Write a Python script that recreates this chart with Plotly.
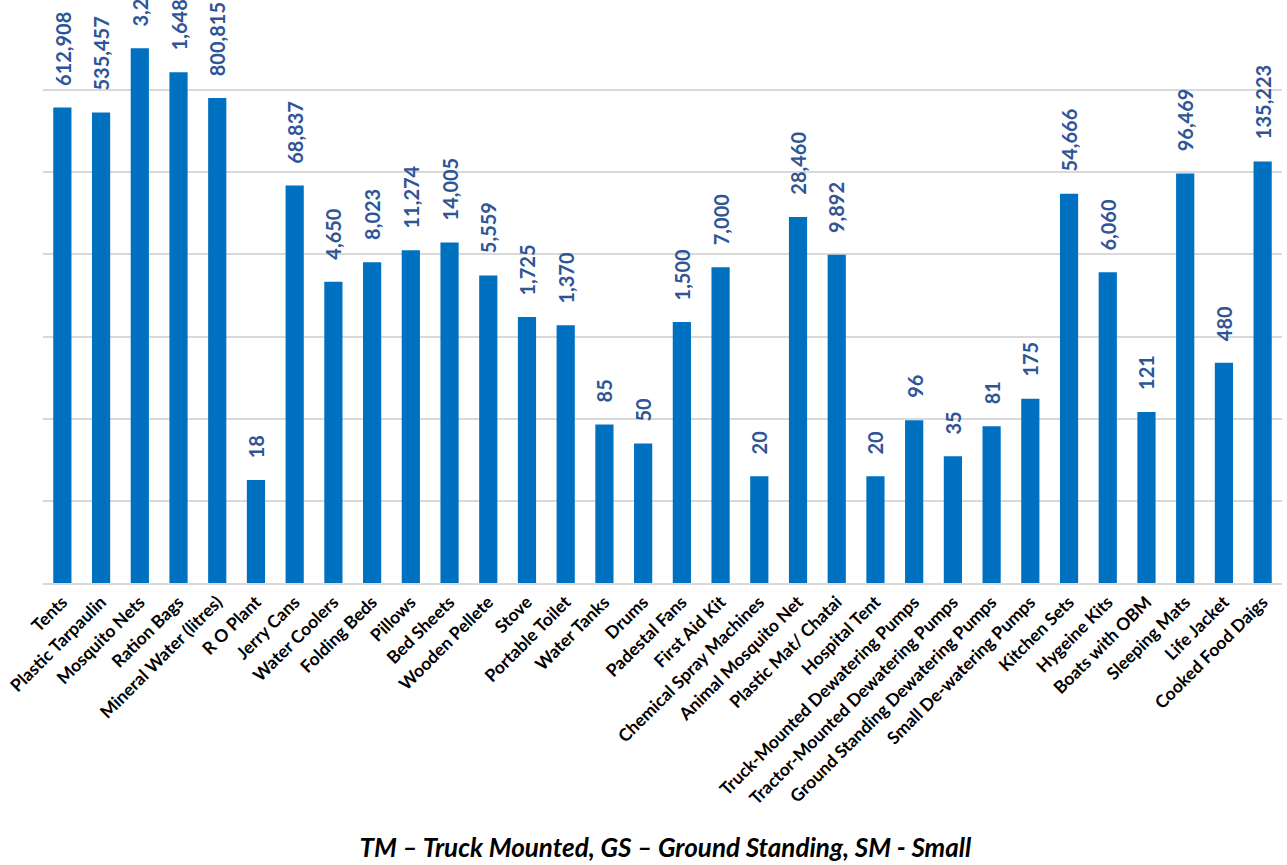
import math
import plotly.graph_objects as go

categories = ["Tents", "Plastic Tarpaulin", "Mosquito Nets", "Ration Bags", "Mineral Water (litres)",
              "R O Plant", "Jerry Cans", "Water Coolers", "Folding Beds", "Pillows", "Bed Sheets",
              "Wooden Pellete", "Stove", "Portable Toilet", "Water Tanks", "Drums", "Padestal Fans",
              "First Aid Kit", "Chemical Spray Machines", "Animal Mosquito Net", "Plastic Mat/ Chatai",
              "Hospital Tent", "Truck-Mounted Dewatering Pumps", "Tractor-Mounted Dewatering Pumps",
              "Ground Standing Dewatering Pumps", "Small De-watering Pumps", "Kitchen Sets",
              "Hygeine Kits", "Boats with OBM", "Sleeping Mats", "Life Jacket", "Cooked Food Daigs"]
values = [612908, 535457, 3232000, 1648520, 800815, 18, 68837, 4650, 8023, 11274, 14005,
          5559, 1725, 1370, 85, 50, 1500, 7000, 20, 28460, 9892, 20, 96, 35, 81, 175,
          54666, 6060, 121, 96469, 480, 135223]

note = "TM – Truck Mounted, GS – Ground Standing, SM - Small"

bar_color = "#0070C0"
label_color = "#2F5597"

fig = go.Figure()
fig.add_trace(go.Bar(x=categories, y=values, marker_color=bar_color,
                     marker_line_width=0, hoverinfo="x+y"))

for c, v in zip(categories, values):
    fig.add_annotation(x=c, y=math.log10(v), text=f"<b>{v:,}</b>", textangle=-90,
                       showarrow=False, yanchor="bottom", xanchor="center", yshift=20,
                       font=dict(family="Lato", size=20, color=label_color))

fig.update_layout(
    width=1287, height=865,
    margin=dict(l=43, r=5, t=8, b=282),
    paper_bgcolor="white", plot_bgcolor="white",
    bargap=0.53,
    showlegend=False,
    title=dict(text=f"<b><i>{note}</i></b>", x=0.517, xanchor="center",
               y=1 - 848 / 865, yanchor="middle",
               font=dict(family="Lato", size=26, color="#000000")),
    font=dict(family="Lato"),
)
fig.update_xaxes(tickangle=-45,
                 tickfont=dict(family="Lato", size=17.5, color="#000000", weight="bold"),
                 showline=True, linecolor="#D9D9D9", linewidth=2, ticks="")
fig.update_yaxes(type="log", range=[0, 7], showticklabels=False, showgrid=True,
                 gridcolor="#D9D9D9", gridwidth=1.5, dtick=1, zeroline=False, showline=False)

fig.write_html("out.html", config={"displayModeBar": False},
               post_script="document.body.style.margin='0';")
